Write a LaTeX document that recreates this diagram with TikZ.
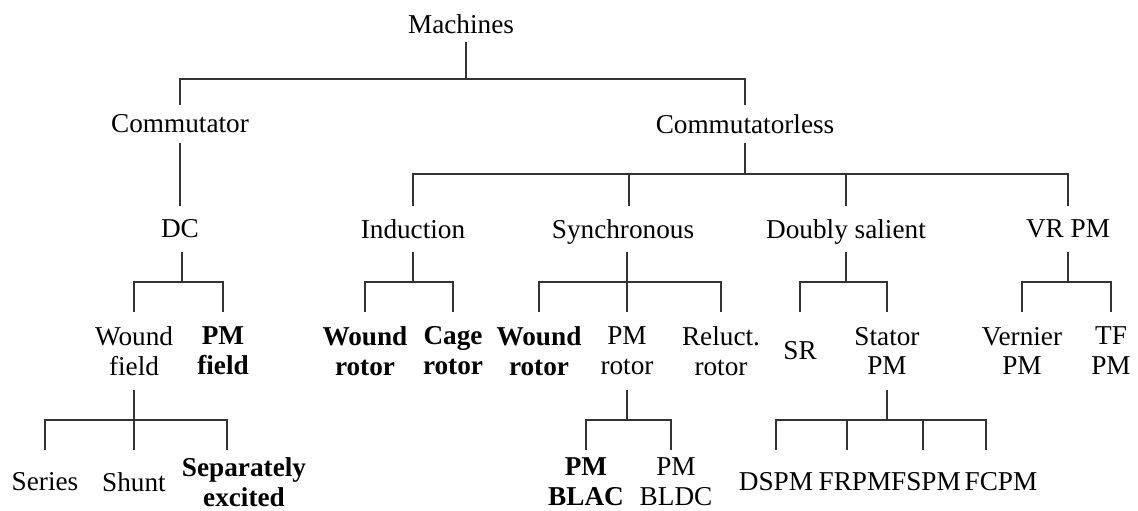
\documentclass[tikz,border=0pt]{standalone}
\usepackage{fontspec}
\setmainfont{Liberation Serif}

\begin{document}
\begin{tikzpicture}[x=0.02cm, y=-0.02cm, line width=1.3pt,
  txt/.style={inner sep=0pt, outer sep=0pt, align=center, text=black, font=\fontsize{15.5}{17}\selectfont},
  txtb/.style={txt, font=\fontsize{15.5}{17}\selectfont\bfseries},
  flat/.style={text depth=0pt},
  lvl0/.style={minimum height=0.72cm},
  lvl1/.style={minimum height=0.76cm},
  lvl2/.style={minimum height=0.94cm},
  lvl3/.style={minimum height=1.56cm},
  lvl4/.style={minimum height=1.28cm},
  link/.style={draw=black!80}]
\useasboundingbox (0,0) rectangle (1138,510);

% top
\node [txt,lvl0] (machines) at (461,24) {Machines};
\node [txt,lvl1] (commutator) at (180,124) {Commutator};
\node [txt,lvl1] (commutatorless) at (745,124) {Commutatorless};
\coordinate (j0) at (466,79);
\draw [link] (machines.south -| j0) -- (j0) -| (commutator);
\draw [link] (j0) -| (commutatorless);

% second row
\node [txt,lvl2] (dc) at (180,229) {DC};
\node [txt,lvl2] (induction) at (413,229) {Induction};
\node [txt,flat,lvl2] (synchronous) at (623,229) {Synchronous};
\node [txt,flat,lvl2] (doublysalient) at (846,229) {Doubly salient};
\node [txt,lvl2] (vrpm) at (1068,229) {VR PM};
\draw [link] (commutator) -- (dc);
\coordinate (j1) at (745,174);
\draw [link] (commutatorless) -- (j1) -| (induction);
\draw [link] (j1) -| ([xshift=0.12cm]synchronous.north);
\draw [link] (j1) -| (doublysalient);
\draw [link] (j1) -| (vrpm);

% third row
\node [txt,lvl3] (woundfield) at (134,351) {Wound\\field};
\node [txtb,lvl3] (pmfield) at (223,351) {PM\\field};
\node [txtb,lvl3] (woundrotor) at (365,351) {Wound\\rotor};
\node [txtb,lvl3] (cagerotor) at (453,351) {Cage\\rotor};
\node [txtb,lvl3] (synwound) at (539,351) {Wound\\rotor};
\node [txt,lvl3] (pmrotor) at (627,351) {PM\\rotor};
\node [txt,lvl3] (reluctrotor) at (721,351) {Reluct.\\rotor};
\node [txt,lvl3] (sr) at (800,351) {SR};
\node [txt,lvl3] (statorpm) at (887,351) {Stator\\PM};
\node [txt,lvl3] (vernierpm) at (1022,351) {Vernier\\PM};
\node [txt,lvl3] (tfpm) at (1111,351) {TF\\PM};
\coordinate (j2a) at (182,282);
\draw [link] (dc.south -| j2a) -- (j2a) -| (woundfield);
\draw [link] (j2a) -| (pmfield);
\coordinate (j2b) at (413,282);
\draw [link] (induction) -- (j2b) -| (woundrotor);
\draw [link] (j2b) -| (cagerotor);
\coordinate (j2c) at (627,282);
\draw [link] (synchronous.south -| j2c) -- (j2c) -| (synwound);
\draw [link] (j2c) -- (pmrotor);
\draw [link] (j2c) -| (reluctrotor);
\coordinate (j2d) at (846,282);
\draw [link] (doublysalient) -- (j2d) -| (sr);
\draw [link] (j2d) -| (statorpm);
\coordinate (j2e) at (1068,282);
\draw [link] (vrpm) -- (j2e) -| (vernierpm);
\draw [link] (j2e) -| (tfpm);

% bottom row
\node [txt,lvl4] (series) at (45,482) {Series};
\node [txt,lvl4] (shunt) at (134,482) {Shunt};
\node [txtb,lvl4] (separately) at (244,482) {Separately\\excited};
\node [txtb,lvl4] (pmblac) at (586,482) {PM\\BLAC};
\node [txt,lvl4] (pmbldc) at (676,482) {PM\\BLDC};
\node [txt,lvl4] (dspm) at (776,482) {DSPM};
\node [txt,lvl4] (frpm) at (855,482) {FRPM};
\node [txt,lvl4] (fspm) at (926,482) {FSPM};
\node [txt,lvl4] (fcpm) at (1001,482) {FCPM};
\coordinate (j3a) at (134,420);
\draw [link] (woundfield) -- (j3a) -| (series);
\draw [link] (j3a) -- (shunt);
\draw [link] (j3a) -| ([xshift=-0.34cm]separately.north);
\coordinate (j3b) at (627,420);
\draw [link] (pmrotor) -- (j3b) -| (pmblac);
\draw [link] (j3b) -| ([xshift=-0.1cm]pmbldc.north);
\coordinate (j3c) at (887,420);
\draw [link] (statorpm) -- (j3c) -| (dspm);
\draw [link] (j3c) -| ([xshift=-0.16cm]frpm.north);
\draw [link] (j3c) -| ([xshift=-0.06cm]fspm.north);
\draw [link] (j3c) -| ([xshift=-0.3cm]fcpm.north);
\end{tikzpicture}
\end{document}
